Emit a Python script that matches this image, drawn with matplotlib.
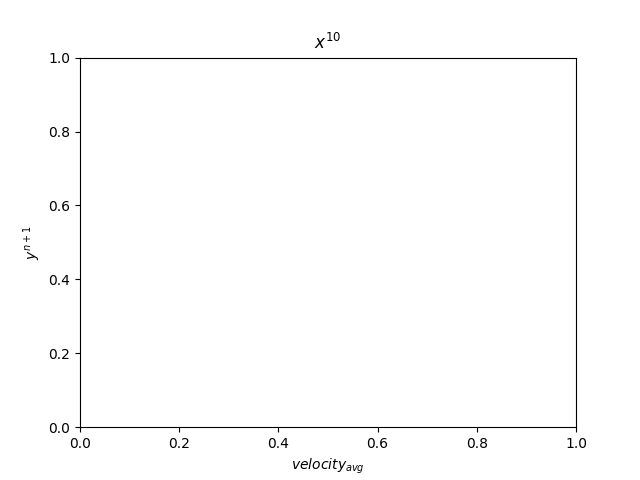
import matplotlib
matplotlib.use("Agg")
import matplotlib.pyplot as plt

# labels (mathtext), no data series in this chart
title_text = r'$x^{10}$'
xlabel_text = r'$velocity_{avg}$'
ylabel_text = r'$y^{n+1}$'

fig, ax = plt.subplots(figsize=(6.4, 4.8), dpi=100)
ax.set_title(title_text)
ax.set_xlabel(xlabel_text)
ax.set_ylabel(ylabel_text)
fig.savefig('out.png')
plt.close(fig)
